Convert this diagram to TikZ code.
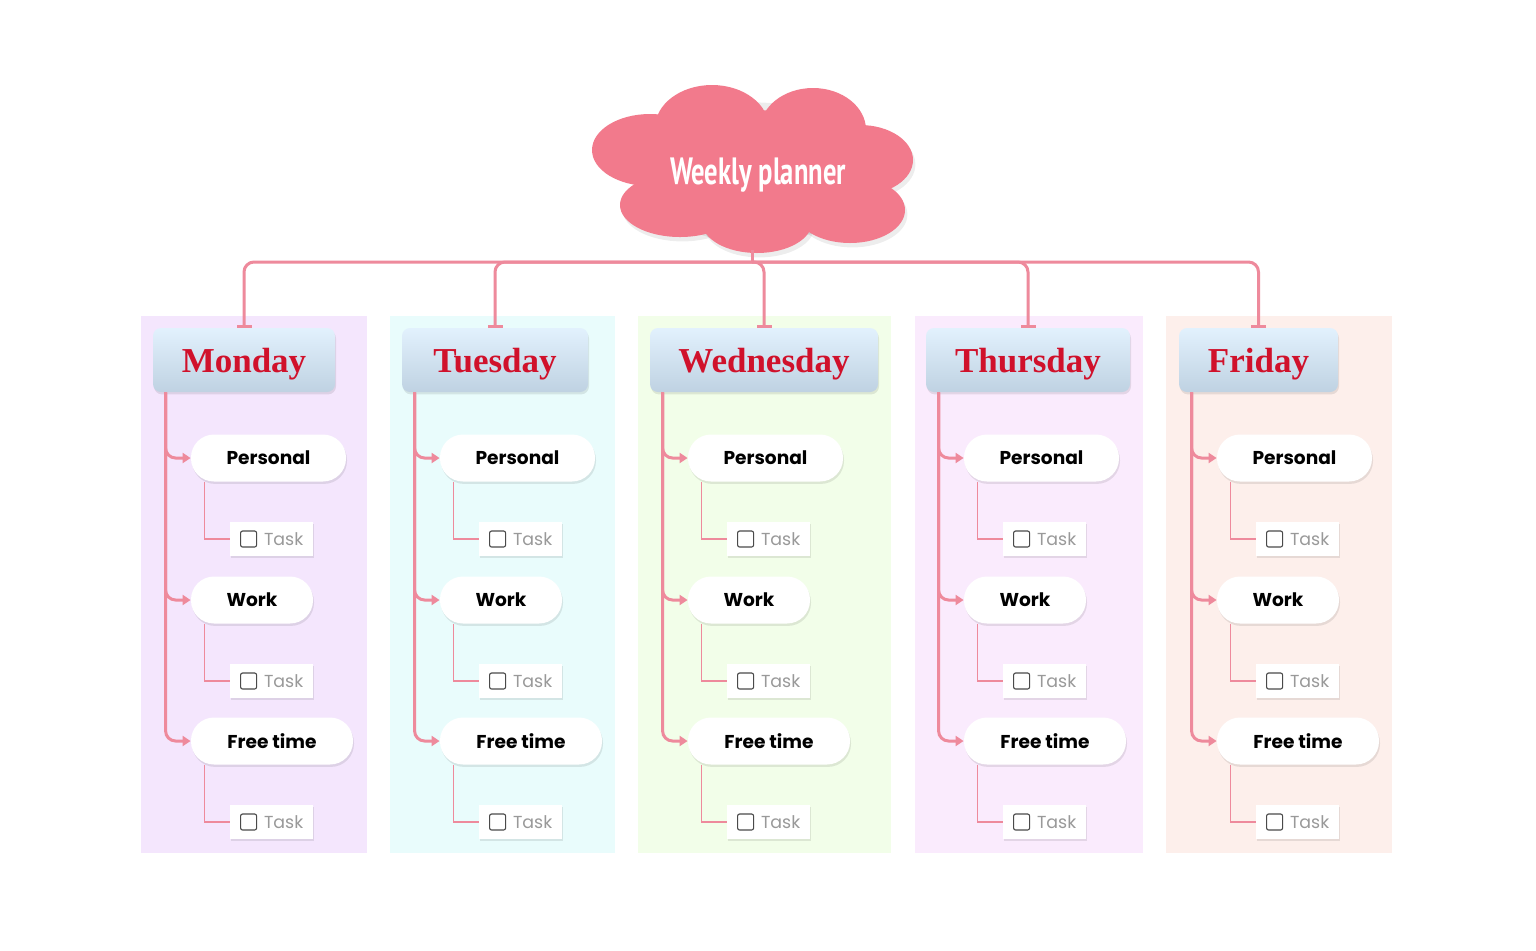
\documentclass[tikz,border=0pt]{standalone}
\usepackage{fontspec}
\setmainfont{Poppins}
\newfontfamily\headfont{Liberation Serif}
\newfontfamily\cloudfont{PT Sans}
\usetikzlibrary{calc,arrows.meta,shadows}
\definecolor{lnk}{HTML}{EE8A9C}
\definecolor{cloudpink}{HTML}{F27A8C}
\definecolor{hdtop}{HTML}{E2F1FD}
\definecolor{hdbot}{HTML}{BFD2E2}
\definecolor{dayred}{HTML}{D0112B}
\definecolor{taskgray}{HTML}{999999}
\definecolor{chkgray}{HTML}{4A4A4A}
\definecolor{pmon}{HTML}{F4E6FD}
\definecolor{ptue}{HTML}{E9FCFC}
\definecolor{pwed}{HTML}{F2FEE9}
\definecolor{pthu}{HTML}{FAEBFD}
\definecolor{pfri}{HTML}{FDEFEB}
\tikzset{
  softshadow/.style={drop shadow={shadow xshift=0.5pt, shadow yshift=-1.2pt, opacity=0.09, fill=black}},
  dayhead/.style={rounded corners=4pt, top color=hdtop, bottom color=hdbot, minimum height=32pt, inner sep=0pt,
    text height=14pt, text depth=2pt,
    font=\headfont\bfseries\fontsize{17.5}{20}\selectfont, text=dayred, softshadow},
  branchnode/.style={fill=white, rounded corners=11.5pt, minimum height=23.5pt, inner sep=0pt,
    font=\bfseries\fontsize{9.3}{11}\selectfont, text=black, softshadow},
  taskbox/.style={fill=white, minimum width=41.5pt, minimum height=17pt, inner sep=0pt, softshadow},
  chkbox/.style={draw=chkgray, line width=0.55pt, rounded corners=1pt, minimum size=8pt, inner sep=0pt},
  tasktext/.style={text=taskgray, font=\fontsize{8.7}{10}\selectfont, inner sep=0pt, anchor=west},
  trunk/.style={draw=lnk, line width=1.5pt, rounded corners=5pt},
  twig/.style={draw=lnk, line width=0.75pt},
  puff/.style={fill=cloudpink},
}
% #1 id, #2 label, #3 header left, #4 header width, #5 panel left, #6 panel right, #7 panel colour
\newcommand\daycol[7]{%
  \fill[#7] (#5,316) rectangle (#6,853);
  \pgfmathsetmacro\hcx{#3+#4/2}
  \node[dayhead, minimum width=#4*0.5pt] (#1h) at (\hcx,360) {#2};
  \pgfmathsetmacro\pxx{#3+115.5}
  \pgfmathsetmacro\wxx{#3+99}
  \pgfmathsetmacro\fxx{#3+119}
  \pgfmathsetmacro\txx{#3+118.5}
  \node[branchnode, minimum width=77.5pt] (#1p) at (\pxx,458) {Personal};
  \node[branchnode, minimum width=61pt] (#1w) at (\wxx,600) {Work};
  \node[branchnode, minimum width=81pt] (#1f) at (\fxx,741) {Free time};
  \node[taskbox] (#1ta) at (\txx,539) {};
  \node[taskbox] (#1tb) at (\txx,681) {};
  \node[taskbox] (#1tc) at (\txx,822) {};
  \foreach \k in {a,b,c}{
    \node[chkbox] (#1c\k) at ($(#1t\k.west)+(19,0)$) {};
    \node[tasktext] (#1x\k) at ($(#1t\k.west)+(34,0)$) {Task};
  }
  \coordinate (#1s) at ($(#1h.south west)+(13,0)$);
  \draw[trunk,-{Triangle[length=4pt,width=5pt]}] (#1s) |- (#1p.west);
  \draw[trunk,-{Triangle[length=4pt,width=5pt]}] (#1s) |- (#1w.west);
  \draw[trunk,-{Triangle[length=4pt,width=5pt]}] (#1s) |- (#1f.west);
  \draw[twig] ($(#1p.south west)+(14,0)$) |- (#1ta.west);
  \draw[twig] ($(#1w.south west)+(14,0)$) |- (#1tb.west);
  \draw[twig] ($(#1f.south west)+(14,0)$) |- (#1tc.west);
  \draw[trunk,-{Bar[width=7.5pt]}] (hub) -| (#1h.north);
}
\begin{document}
\begin{tikzpicture}[x=0.5pt,y=-0.5pt]
\useasboundingbox[fill=white] (0,0) rectangle (1536,950);
% cloud shadow
\begin{scope}[xshift=1.2pt, yshift=-2.2pt, fill opacity=0.07]
  \fill[black] (752,168) ellipse [x radius=118, y radius=70];
  \fill[black] (850,210) ellipse [x radius=55, y radius=33];
  \fill[black] (757,222) ellipse [x radius=55, y radius=31];
  \fill[black] (680,205) ellipse [x radius=60, y radius=32];
  \fill[black] (860,160) ellipse [x radius=53, y radius=35];
\end{scope}
% cloud puffs
\fill[puff] (712,128) ellipse [x radius=57, y radius=43];
\fill[puff] (813,130) ellipse [x radius=53, y radius=42];
\fill[puff] (650,150) ellipse [x radius=58, y radius=36];
\fill[puff] (860,160) ellipse [x radius=53, y radius=35];
\fill[puff] (680,205) ellipse [x radius=60, y radius=32];
\fill[puff] (757,222) ellipse [x radius=55, y radius=31];
\fill[puff] (850,210) ellipse [x radius=55, y radius=33];
\fill[puff] (752,170) ellipse [x radius=115, y radius=60];
\node[text=white, font=\cloudfont\bfseries\fontsize{19}{22}\selectfont, inner sep=0pt] (wp) at (758,175) {\scalebox{0.7}[1]{Weekly planner}};
\coordinate (cloudfoot) at (752,250);
\coordinate (hub) at (752,262);
\draw[draw=lnk, line width=1.5pt] (cloudfoot) -- (hub);
\daycol{mon}{Monday}{153}{182}{141}{367}{pmon}
\daycol{tue}{Tuesday}{402}{186}{390}{615}{ptue}
\daycol{wed}{Wednesday}{650}{228}{638}{891}{pwed}
\daycol{thu}{Thursday}{926}{204}{915}{1143}{pthu}
\daycol{fri}{Friday}{1179}{159}{1166}{1392}{pfri}
\end{tikzpicture}
\end{document}
